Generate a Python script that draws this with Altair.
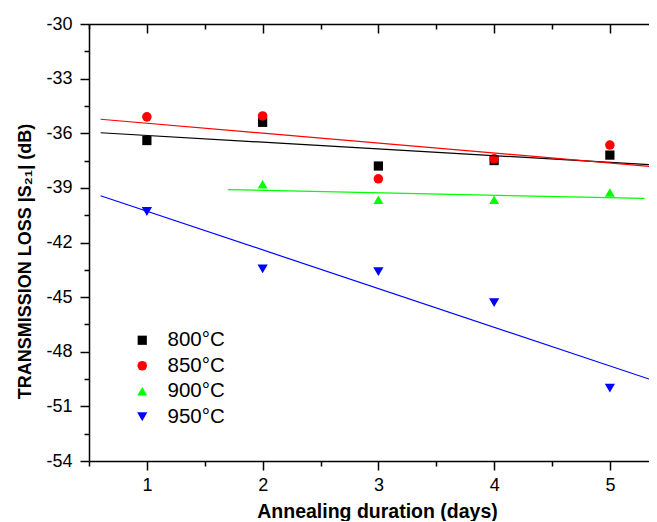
import altair as alt
import pandas as pd

# ---- data ----
days = [1, 2, 3, 4, 5]
series_names = ["800°C", "850°C", "900°C", "950°C"]
loss_800 = [-36.4, -35.4, -37.8, -37.5, -37.2]
loss_850 = [-35.1, -35.05, -38.5, -37.4, -36.65]
days_900 = [2, 3, 4, 5]
loss_900 = [-38.8, -39.65, -39.65, -39.25]
loss_950 = [-40.3, -43.45, -43.6, -45.3, -50.0]

colors = ["#000000", "#ff0000", "#00ff00", "#0000ff"]
shapes = ["square", "circle", "triangle-up", "triangle-down"]
marker_sizes = [85, 105, 200, 200]

x_tick_values = [0.5, 1, 1.5, 2, 2.5, 3, 3.5, 4, 4.5, 5]
y_tick_values = [-54, -52.5, -51, -49.5, -48, -46.5, -45, -43.5, -42, -40.5,
                 -39, -37.5, -36, -34.5, -33, -31.5, -30]

rows = []
for d, v in zip(days, loss_800):
    rows.append({"days": d, "loss": v, "series": series_names[0]})
for d, v in zip(days, loss_850):
    rows.append({"days": d, "loss": v, "series": series_names[1]})
for d, v in zip(days_900, loss_900):
    rows.append({"days": d, "loss": v, "series": series_names[2]})
for d, v in zip(days, loss_950):
    rows.append({"days": d, "loss": v, "series": series_names[3]})
df = pd.DataFrame(rows)

FONT = "Liberation Sans"
X_MAX = 5.338

xscale = alt.Scale(domain=[0.5, X_MAX], nice=False, zero=False)
yscale = alt.Scale(domain=[-54, -30], nice=False, zero=False)
color_scale = alt.Scale(domain=series_names, range=colors)
shape_scale = alt.Scale(domain=series_names, range=shapes)
size_scale = alt.Scale(domain=series_names, range=marker_sizes)

x_axis_bottom = alt.Axis(
    values=x_tick_values,
    labelExpr="datum.value % 1 == 0 ? '' + datum.value : ''",
    tickSize={"condition": {"test": "datum.value % 1 != 0", "value": 5}, "value": 9},
    tickWidth=1.5, tickColor="black",
    domainWidth=1.5, domainColor="black",
    labelFont=FONT, labelFontSize=18, labelColor="black", labelPadding=6,
    labelFlush=False,
    grid=False,
    title="Annealing duration (days)",
    titleFont=FONT, titleFontSize=19.5, titleFontWeight="bold", titleColor="black",
    titleX=288, titleY=56, titleBaseline="alphabetic", titleAlign="center",
)

x_axis_top = alt.Axis(
    orient="top",
    values=x_tick_values,
    labels=False,
    tickSize={"expr": "datum.value % 1 != 0 ? -5 : -9"},
    tickWidth=1.5, tickColor="black",
    domainWidth=1.5, domainColor="black",
    grid=False, title=None,
)

y_axis = alt.Axis(
    values=y_tick_values,
    labelExpr="datum.value % 3 == 0 ? '' + datum.value : ''",
    tickSize={"condition": {"test": "datum.value % 3 != 0", "value": 5}, "value": 9},
    tickWidth=1.5, tickColor="black",
    domainWidth=1.5, domainColor="black",
    labelFont=FONT, labelFontSize=18, labelColor="black", labelPadding=8,
    labelFlush=False,
    grid=False,
    title="TRANSMISSION LOSS |S₂₁| (dB)",
    titleFont=FONT, titleFontSize=18, titleFontWeight="bold", titleColor="black",
    titleX=-59, titleY=237, titleBaseline="alphabetic", titleAngle=270,
)

legend = alt.Legend(
    title=None, orient="none", legendX=43, legendY=306,
    labelFont=FONT, labelFontSize=20.5, labelColor="black",
    symbolStrokeWidth=0, symbolOpacity=1,
    labelOffset=15, rowPadding=4.5,
)

base = alt.Chart(df)

points = base.mark_point(filled=True, opacity=1).encode(
    x=alt.X("days:Q", scale=xscale, axis=x_axis_bottom),
    y=alt.Y("loss:Q", scale=yscale, axis=y_axis),
    color=alt.Color("series:N", scale=color_scale, legend=legend),
    shape=alt.Shape("series:N", scale=shape_scale, legend=legend),
    size=alt.Size("series:N", scale=size_scale, legend=legend),
)

fit_main = base.transform_filter(
    alt.datum.series != series_names[2]
).transform_regression(
    "days", "loss", groupby=["series"], extent=[0.6, X_MAX]
).mark_line(strokeWidth=1.2, clip=True).encode(
    x=alt.X("days:Q", scale=xscale, axis=x_axis_top),
    y=alt.Y("loss:Q", scale=yscale, axis=y_axis),
    color=alt.Color("series:N", scale=color_scale, legend=None),
)

fit_900 = base.transform_filter(
    alt.datum.series == series_names[2]
).transform_regression(
    "days", "loss", groupby=["series"], extent=[1.7, 5.3]
).mark_line(strokeWidth=1.2, clip=True).encode(
    x=alt.X("days:Q", scale=xscale, axis=None),
    y=alt.Y("loss:Q", scale=yscale, axis=y_axis),
    color=alt.Color("series:N", scale=color_scale, legend=None),
)

chart = alt.layer(points, fit_main, fit_900).resolve_axis(
    x="independent"
).resolve_scale(x="shared").properties(
    width=560, height=437,
    autosize=alt.AutoSizeParams(type="none"),
    padding={"left": 81, "top": 16, "right": 0, "bottom": 60},
).configure_view(stroke=None)

chart.save("out.html", embed_options={"renderer": "svg", "actions": False})
